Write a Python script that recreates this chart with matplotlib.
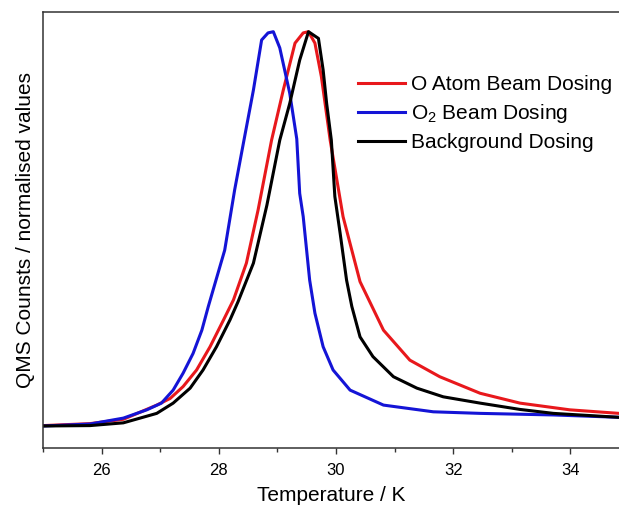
import matplotlib
matplotlib.use("Agg")
import matplotlib.pyplot as plt
from matplotlib.ticker import MultipleLocator

plt.rcParams["font.family"] = ["Liberation Sans", "DejaVu Sans"]
plt.rcParams["mathtext.fontset"] = "custom"
plt.rcParams["mathtext.rm"] = "Liberation Sans"

# O atom beam dosing (red)
t_atom = [25.00, 25.80, 26.37, 26.94, 27.17, 27.39, 27.62, 27.85, 28.08, 28.25,
          28.47, 28.67, 28.90, 29.10, 29.30, 29.44, 29.53, 29.64, 29.75, 29.90,
          30.12, 30.41, 30.81, 31.26, 31.77, 32.46, 33.14, 33.99, 34.83]
v_atom = [0.001, 0.006, 0.017, 0.053, 0.070, 0.100, 0.142, 0.201, 0.269, 0.320,
          0.413, 0.548, 0.725, 0.852, 0.971, 0.997, 1.000, 0.971, 0.886, 0.725,
          0.531, 0.366, 0.243, 0.167, 0.125, 0.083, 0.058, 0.041, 0.032]

# O2 beam dosing (blue)
t_o2 = [25.00, 25.80, 26.37, 26.77, 27.02, 27.22, 27.39, 27.56, 27.71, 27.82,
        28.10, 28.27, 28.42, 28.59, 28.73, 28.84, 28.93, 29.04, 29.21,
        29.33, 29.38, 29.44, 29.55, 29.64, 29.78, 29.95, 30.24, 30.81, 31.66,
        32.46, 33.71, 34.83]
v_o2 = [0.000, 0.005, 0.020, 0.041, 0.058, 0.091, 0.134, 0.184, 0.243, 0.303,
        0.446, 0.599, 0.718, 0.852, 0.979, 0.997, 1.000, 0.959, 0.844,
        0.728, 0.590, 0.531, 0.370, 0.286, 0.201, 0.142, 0.091, 0.053, 0.036,
        0.032, 0.028, 0.022]

# background dosing (black)
t_bg = [25.00, 25.80, 26.37, 26.94, 27.22, 27.51, 27.73, 27.96, 28.19, 28.33,
        28.59, 28.82, 29.04, 29.21, 29.38, 29.53, 29.70, 29.78, 29.84, 29.92,
        29.98, 30.07, 30.18, 30.27, 30.41, 30.63, 30.98, 31.38, 31.83, 32.46,
        33.14, 33.71, 34.83]
v_bg = [0.000, 0.001, 0.008, 0.032, 0.058, 0.096, 0.142, 0.201, 0.269, 0.316,
        0.413, 0.560, 0.725, 0.818, 0.928, 1.000, 0.983, 0.903, 0.818, 0.725,
        0.582, 0.489, 0.370, 0.303, 0.226, 0.176, 0.125, 0.096, 0.074, 0.058,
        0.042, 0.032, 0.022]

SERIES = [
    ("O Atom Beam Dosing", t_atom, v_atom, "#e8181c"),
    ("O$_\\mathregular{2}$ Beam Dosing", t_o2, v_o2, "#1414d6"),
    ("Background Dosing", t_bg, v_bg, "#000000"),
]

fig = plt.figure(figsize=(6.19, 5.08), dpi=100)
ax = fig.add_axes([0.0696, 0.1175, 0.9304, 0.8589])

for name, t, v, c in SERIES:
    ax.plot(t, v, color=c, lw=2.2, label=name, solid_joinstyle="round")

ax.set_xlim(25, 34.83)
ax.set_ylim(-0.0566, 1.05)
ax.xaxis.set_major_locator(MultipleLocator(2))
ax.xaxis.set_minor_locator(MultipleLocator(1))
ax.tick_params(axis="x", which="major", direction="out", length=4.5, width=1,
               labelsize=12, pad=6, color="#333333")
ax.tick_params(axis="x", which="minor", direction="out", length=3, width=1,
               color="#333333")
ax.set_yticks([])
ax.spines["right"].set_visible(False)
for s in ("left", "top", "bottom"):
    ax.spines[s].set_linewidth(1.1)
    ax.spines[s].set_color("#333333")

ax.set_xlabel("Temperature / K", fontsize=15, labelpad=6)
ax.set_ylabel("QMS Counsts / normalised values", fontsize=15, labelpad=6)

ax.legend(loc="upper left", bbox_to_anchor=(0.547, 0.856), frameon=False,
          fontsize=15, handlelength=2.26, handletextpad=0.29,
          labelspacing=0.4, borderpad=0, borderaxespad=0)

fig.savefig("out.png", dpi=100)
